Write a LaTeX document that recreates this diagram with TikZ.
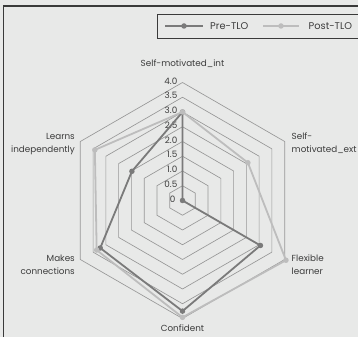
\documentclass[tikz,border=0pt]{standalone}
\usepackage{fontspec}
\setmainfont{Poppins}
\usetikzlibrary{calc}
\definecolor{bgcol}{HTML}{E8E9E8}
\definecolor{framecol}{HTML}{3A3A3A}
\definecolor{gridcol}{HTML}{979797}
\definecolor{precol}{HTML}{7A7A7A}
\definecolor{postcol}{HTML}{BDBDBD}
\definecolor{txtcol}{HTML}{3C3C3C}
\tikzset{
  gridring/.style={draw=gridcol, line width=0.65pt},
  preline/.style={draw=precol, line width=1.8pt, line join=round},
  postline/.style={draw=postcol, line width=1.8pt, line join=round},
  predot/.style={circle, fill=precol, inner sep=0pt, minimum size=5.5pt},
  postdot/.style={circle, fill=postcol, inner sep=0pt, minimum size=5.5pt},
  txt/.style={text=txtcol, font=\fontsize{8.8}{12.7}\selectfont, inner sep=0pt},
  legtxt/.style={text=txtcol, font=\fontsize{9.8}{12}\selectfont, inner sep=0pt},
  ticklbl/.style={txt, anchor=east},
}
\begin{document}
\begin{tikzpicture}[x=1pt, y=1pt]
  % canvas
  \fill[bgcol] (0,0) rectangle (358,337);
  \useasboundingbox (0,0) rectangle (358,337);
  \clip (0,0) rectangle (358,337);
  % chart frame (left and top edges)
  \draw[framecol, line width=1.1pt] (3.5,0) -- (3.5,331) -- (360,331);

  % legend
  \draw[framecol, line width=0.9pt] (157.5,299) rectangle (370,323);
  \coordinate (lpa) at (165,311);
  \coordinate (lpb) at (203,311);
  \draw[preline] (lpa) -- (lpb);
  \node[predot] (lpd) at (184,311) {};
  \node[legtxt, anchor=west] (lpt) at (210,311) {Pre-TLO};
  \coordinate (lqa) at (263,311);
  \coordinate (lqb) at (299,311);
  \draw[postline] (lqa) -- (lqb);
  \node[postdot] (lqd) at (281,311) {};
  \node[legtxt, anchor=west] (lqt) at (308.5,311) {Post-TLO};

  \begin{scope}[shift={(182.5,136.5)}]
    \def\u{29.5}
    \coordinate (C) at (0,0);
    % rings from 0.5 to 4.0
    \foreach \v in {0.5,1.0,...,4.0} {
      \draw[gridring] (90:\v*\u) -- (30:\v*\u) -- (-30:\v*\u) -- (-90:\v*\u)
        -- (-150:\v*\u) -- (150:\v*\u) -- cycle;
    }
    % scale labels
    \foreach \v/\t in {0.5/0.5,1.0/1.0,1.5/1.5,2.0/2.0,2.5/2.5,3.0/3.0,3.5/3.5,4.0/4.0} {
      \node[ticklbl] (tick\t) at (-5, \v*\u+1.5) {\t};
    }
    \node[ticklbl] (tick0) at (-7, 1) {0};

    % axis labels
    \node[txt, anchor=south] (ax1) at (0, 132.5) {Self-motivated\_int};
    \node[txt, anchor=west, align=left] (ax2) at (109, 57) {Self-\\motivated\_ext};
    \node[txt, anchor=west, align=left] (ax3) at (109, -64.5) {Flexible\\learner};
    \node[txt, anchor=north] (ax4) at (0, -124.5) {Confident};
    \node[txt, anchor=east, align=right] (ax5) at (-107.5, -64.5) {Makes\\connections};
    \node[txt, anchor=east, align=right] (ax6) at (-107.5, 56.5) {Learns\\independently};

    % Pre-TLO values
    \coordinate (pre1) at (90:3.0*\u);
    \coordinate (pre2) at (C);
    \coordinate (pre3) at (-30:3.05*\u);
    \coordinate (pre4) at (-90:3.75*\u);
    \coordinate (pre5) at (-150:3.22*\u);
    \coordinate (pre6) at (150:1.98*\u);
    % Post-TLO values
    \coordinate (post1) at (90:3.0*\u);
    \coordinate (post2) at (30:2.56*\u);
    \coordinate (post3) at (-30:4.05*\u);
    \coordinate (post4) at (-90:3.96*\u);
    \coordinate (post5) at (-150:3.36*\u);
    \coordinate (post6) at (150:3.43*\u);

    \draw[preline] (pre1) -- (pre2) -- (pre3) -- (pre4) -- (pre5) -- (pre6) -- cycle;
    \foreach \i in {1,...,6} { \node[predot] (pred\i) at (pre\i) {}; }
    \draw[postline] (post1) -- (post2) -- (post3) -- (post4) -- (post5) -- (post6) -- cycle;
    \foreach \i in {1,...,6} { \node[postdot] (postd\i) at (post\i) {}; }
  \end{scope}
\end{tikzpicture}
\end{document}
